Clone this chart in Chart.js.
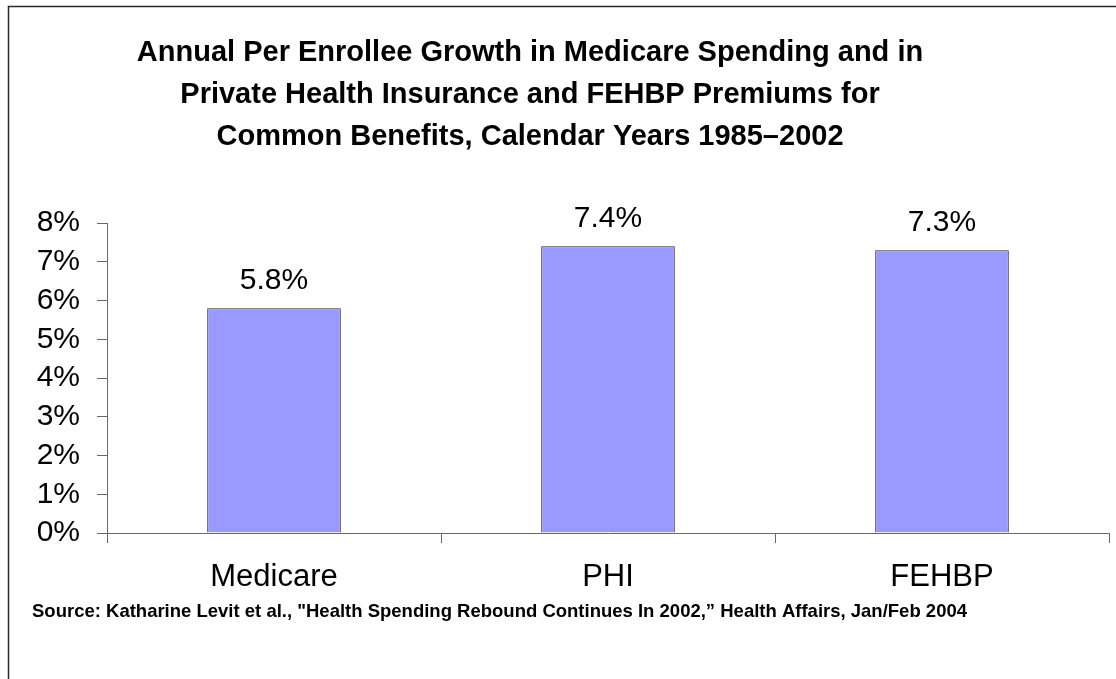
<!DOCTYPE html>
<html>
<head>
<meta charset="utf-8">
<title>Annual Per Enrollee Growth</title>
<script src="https://cdn.jsdelivr.net/npm/chart.js@4/dist/chart.umd.min.js"></script>
<style>
    html, body { margin: 0; padding: 0; background: #fff; }
    canvas { display: block; }
</style>
</head>
<body>
<canvas id="growthChart" width="1116" height="679"></canvas>
<script>
// ---------- data ----------
const categories = ["Medicare", "PHI", "FEHBP"];
const growthRates = [5.8, 7.4, 7.3];
const yMin = 0;
const yMax = 8;
const yStep = 1;

const titleLines = [
    "Annual Per Enrollee Growth in Medicare Spending and in",
    "Private Health Insurance and FEHBP Premiums for",
    "Common Benefits, Calendar Years 1985\u20132002",
];
const sourceNote =
    'Source: Katharine Levit et al., "Health Spending Rebound Continues In 2002,\u201D Health Affairs, Jan/Feb 2004';

const FONT = '"Liberation Sans", Arial, Helvetica, sans-serif';
const AXIS_GRAY = "#6a6a6a";

// ---------- frame, title, source ----------
const frameText = {
    id: "frameText",
    beforeDraw(chart) {
        const ctx = chart.ctx;
        ctx.save();
        ctx.fillStyle = "#fff";
        ctx.fillRect(0, 0, chart.width, chart.height);
        ctx.strokeStyle = "#2a2a2a";
        ctx.lineWidth = 1.5;
        ctx.strokeRect(8.5, 6.5, chart.width + 20, chart.height + 20);
        ctx.restore();
    },
    afterDraw(chart) {
        const ctx = chart.ctx;
        ctx.save();
        ctx.fillStyle = "#000";
        ctx.textAlign = "center";
        ctx.textBaseline = "alphabetic";
        ctx.font = "bold 29px " + FONT;
        titleLines.forEach((line, i) => ctx.fillText(line, 530, 61 + i * 42));

        ctx.textAlign = "left";
        ctx.font = "bold 18.5px " + FONT;
        ctx.fillText(sourceNote, 32, 617);
        ctx.restore();
    },
};

// ---------- value labels above bars ----------
const barValues = {
    id: "barValues",
    afterDatasetsDraw(chart) {
        const ctx = chart.ctx;
        const meta = chart.getDatasetMeta(0);
        ctx.save();
        ctx.fillStyle = "#000";
        ctx.font = "30px " + FONT;
        ctx.textAlign = "center";
        ctx.textBaseline = "alphabetic";
        meta.data.forEach((bar, i) => {
            ctx.fillText(growthRates[i].toFixed(1) + "%", bar.x, bar.y - 19);
        });
        ctx.restore();
    },
};

new Chart(document.getElementById("growthChart"), {
    type: "bar",
    data: {
        labels: categories,
        datasets: [
            {
                data: growthRates,
                backgroundColor: "#9999FF",
                borderColor: "#2a2a2a",
                borderWidth: 1,
                categoryPercentage: 1,
                barPercentage: 0.4,
            },
        ],
    },
    options: {
        responsive: false,
        animation: false,
        layout: { padding: { top: 223, right: 7, bottom: 86, left: 0 } },
        plugins: {
            legend: { display: false },
            tooltip: { enabled: false },
            title: { display: false },
        },
        scales: {
            x: {
                offset: true,
                grid: {
                    offset: true,
                    drawOnChartArea: false,
                    tickLength: 10,
                    color: AXIS_GRAY,
                },
                border: { color: AXIS_GRAY },
                ticks: {
                    color: "#000",
                    font: { family: FONT, size: 31 },
                    padding: 16,
                    maxRotation: 0,
                },
                afterFit: (s) => { s.height = 60; },
            },
            y: {
                min: yMin,
                max: yMax,
                grid: {
                    drawOnChartArea: false,
                    tickLength: 10,
                    color: AXIS_GRAY,
                },
                border: { color: AXIS_GRAY },
                ticks: {
                    stepSize: yStep,
                    autoSkip: false,
                    color: "#000",
                    font: { family: FONT, size: 30 },
                    padding: 17,
                    callback: (v) => v + "%",
                },
                afterFit: (s) => { s.width = 107; },
            },
        },
    },
    plugins: [frameText, barValues],
});
</script>
</body>
</html>
